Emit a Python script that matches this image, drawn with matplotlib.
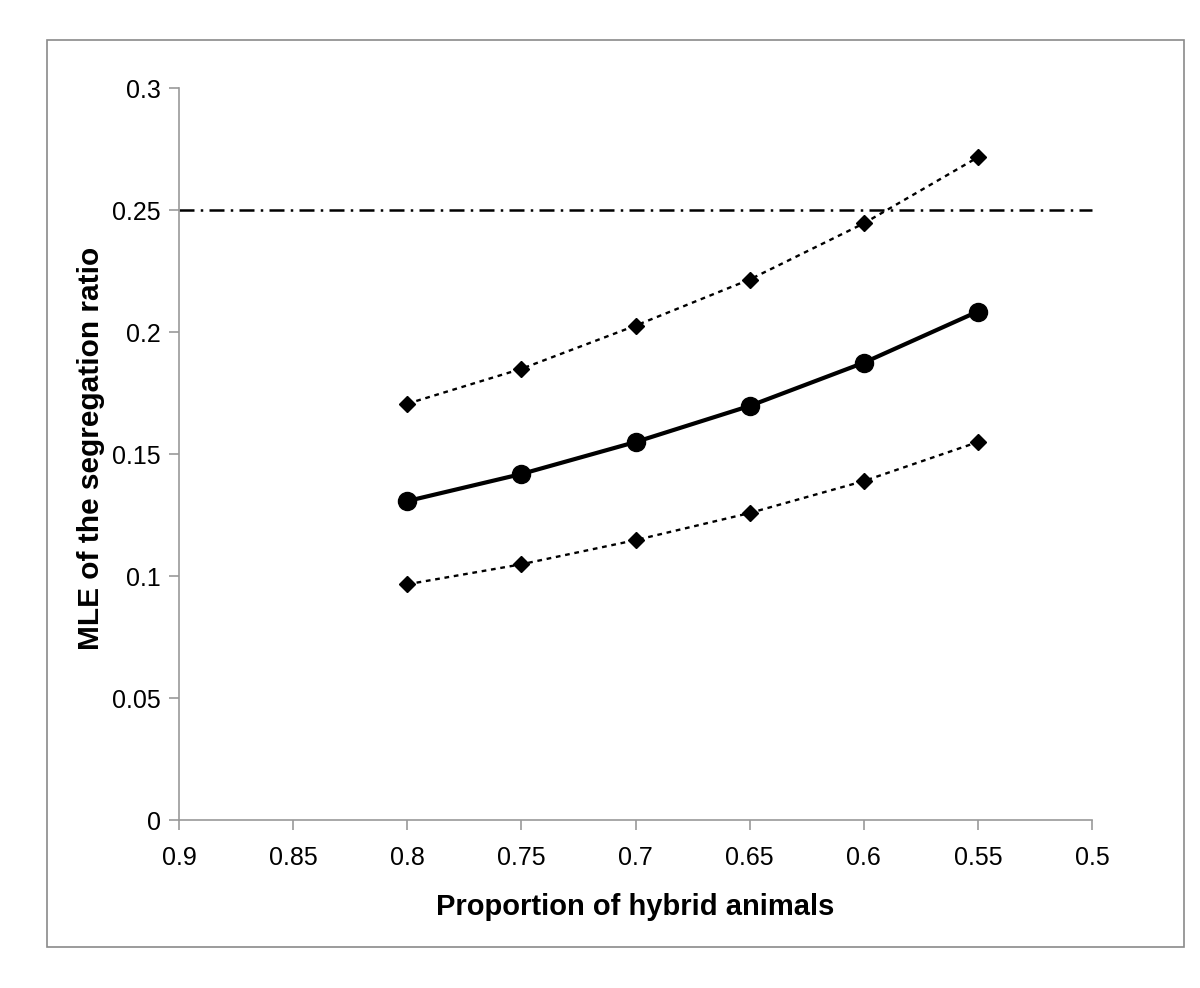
import matplotlib
matplotlib.use("Agg")
import matplotlib.pyplot as plt
from matplotlib.patches import Rectangle

plt.rcParams['font.family'] = ['Liberation Sans', 'DejaVu Sans']

proportion = [0.8, 0.75, 0.7, 0.65, 0.6, 0.55]
mle = [0.1307, 0.1418, 0.1549, 0.1697, 0.1874, 0.2084]
upper = [0.1706, 0.1849, 0.2026, 0.2215, 0.2445, 0.2716]
lower = [0.0966, 0.1048, 0.1147, 0.1258, 0.1389, 0.1549]
reference_ratio = 0.25
xticks = [0.9, 0.85, 0.8, 0.75, 0.7, 0.65, 0.6, 0.55, 0.5]
yticks = [0, 0.05, 0.1, 0.15, 0.2, 0.25, 0.3]

fig = plt.figure(figsize=(12, 9.88), dpi=100)
ax = fig.add_axes([179/1200, 1 - 820/988, (1092-179)/1200, (820-88)/988])

fig.patches.append(Rectangle((47/1200, 1 - 947/988), (1184-47)/1200, (947-40)/988,
                             transform=fig.transFigure, fill=False, edgecolor='#8a8a8a', linewidth=1.2))

ax.plot([0.9, 0.5], [reference_ratio, reference_ratio], color='black', linewidth=1.8,
        dashes=(6, 2.5, 1, 2.5), clip_on=False)
ax.plot(proportion, upper, color='black', linewidth=1.7, linestyle=(0, (2, 2)),
        marker='D', markersize=8)
ax.plot(proportion, lower, color='black', linewidth=1.7, linestyle=(0, (2, 2)),
        marker='D', markersize=8)
ax.plot(proportion, mle, color='black', linewidth=3, marker='o', markersize=13)

ax.set_xlim(0.9, 0.5)
ax.set_ylim(0, 0.3)
ax.set_xticks(xticks)
ax.set_xticklabels([f"{v:g}" for v in xticks])
ax.set_yticks(yticks)
ax.set_yticklabels([f"{v:g}" for v in yticks])

for s in ['top', 'right']:
    ax.spines[s].set_visible(False)
for s in ['left', 'bottom']:
    ax.spines[s].set_color('#999999')
    ax.spines[s].set_linewidth(1.2)
ax.tick_params(axis='both', direction='out', length=7, width=1.2, color='#999999',
               labelsize=18, pad=6)
ax.tick_params(axis='x', pad=12)

ax.set_xlabel('Proportion of hybrid animals', fontsize=21, fontweight='bold', labelpad=16)
ax.set_ylabel('MLE of the segregation ratio', fontsize=21.5, fontweight='bold')
ax.yaxis.set_label_coords(-0.081, 0.508)

fig.savefig('out.png', dpi=100)
